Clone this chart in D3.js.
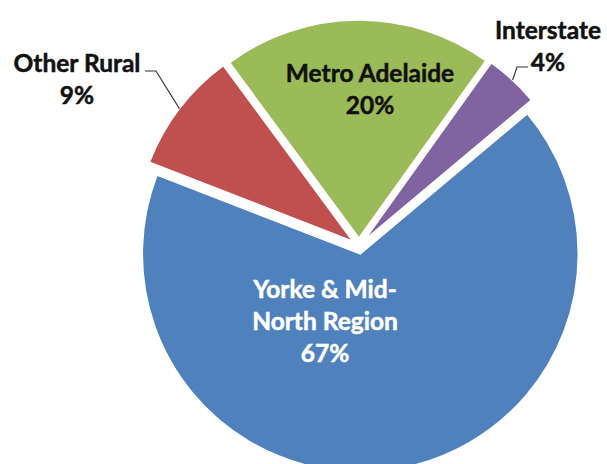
<!DOCTYPE html>
<html>
<head>
<meta charset="utf-8">
<script src="https://cdn.jsdelivr.net/npm/d3@7"></script>
<style>
  body { margin: 0; background: #fff; }
  svg { display: block; }
  text { font-family: Lato, 'Open Sans', sans-serif; font-weight: 700; }
</style>
</head>
<body>
<div id="chart"></div>
<script>
const categories = ['Yorke & Mid-North Region', 'Other Rural', 'Metro Adelaide', 'Interstate']
const values = [67, 9, 20, 4]
const colors = ['#4f81bd', '#c0504d', '#9bbb59', '#8064a2']
// how each data label is broken over lines
const labelLines = [
  ['Yorke & Mid-', 'North Region'],
  ['Other Rural'],
  ['Metro Adelaide'],
  ['Interstate'],
]

const width = 607
const height = 464
const center = { x: 359, y: 246 }
const radius = 218
const explode = 8
const fontSize = 24.5
const lineHeight = 32

// where the labels sit (first line baseline, centred); leader runs from the text to the slice
const labelLayout = [
  { x: 325, y: 298, fill: '#fff' },
  { x: 77, y: 72, fill: '#111', leader: { x: 145, y: 71, knee: 156 } },
  { x: 370, y: 82, fill: '#111' },
  { x: 548, y: 39, fill: '#111', leader: { x: 528, y: 67, knee: 517 } },
]

const svg = d3
  .select('#chart')
  .append('svg')
  .attr('width', width)
  .attr('height', height)

const startAngle = (50 * Math.PI) / 180
const pie = d3
  .pie()
  .sort(null)
  .startAngle(startAngle)
  .endAngle(startAngle + 2 * Math.PI)

const arcs = pie(values)

const arc = d3.arc().innerRadius(0).outerRadius(radius)
const edgeArc = d3.arc().innerRadius(radius).outerRadius(radius)

function offset(d) {
  const mid = (d.startAngle + d.endAngle) / 2
  return { x: Math.sin(mid) * explode, y: -Math.cos(mid) * explode }
}

const slices = svg
  .selectAll('g.slice')
  .data(arcs)
  .join('g')
  .attr('class', 'slice')
  .attr('transform', d => {
    const o = offset(d)
    return `translate(${center.x + o.x}, ${center.y + o.y})`
  })

slices
  .append('path')
  .attr('d', arc)
  .attr('fill', (d, i) => colors[i])
  .attr('stroke', '#fff')
  .attr('stroke-width', 1.5)

// leader lines go to the middle of the slice's outer edge
arcs.forEach((d, i) => {
  const lead = labelLayout[i].leader
  if (!lead) return
  const o = offset(d)
  const [ex, ey] = edgeArc.centroid(d)
  const end = [center.x + o.x + ex, center.y + o.y + ey]
  svg
    .append('polyline')
    .attr('points', [[lead.x, lead.y], [lead.knee, lead.y], end].join(' '))
    .attr('fill', 'none')
    .attr('stroke', '#333')
    .attr('stroke-width', 1.2)
})

arcs.forEach((d, i) => {
  const layout = labelLayout[i]
  const lines = labelLines[i].concat([`${values[i]}%`])
  const text = svg
    .append('text')
    .attr('text-anchor', 'middle')
    .attr('font-size', fontSize)
    .attr('fill', layout.fill)
    .attr('stroke', layout.fill)
    .attr('stroke-width', 0.5)
  lines.forEach((line, j) => {
    text
      .append('tspan')
      .attr('x', layout.x)
      .attr('y', layout.y + j * lineHeight)
      .text(line)
  })
})
</script>
</body>
</html>
